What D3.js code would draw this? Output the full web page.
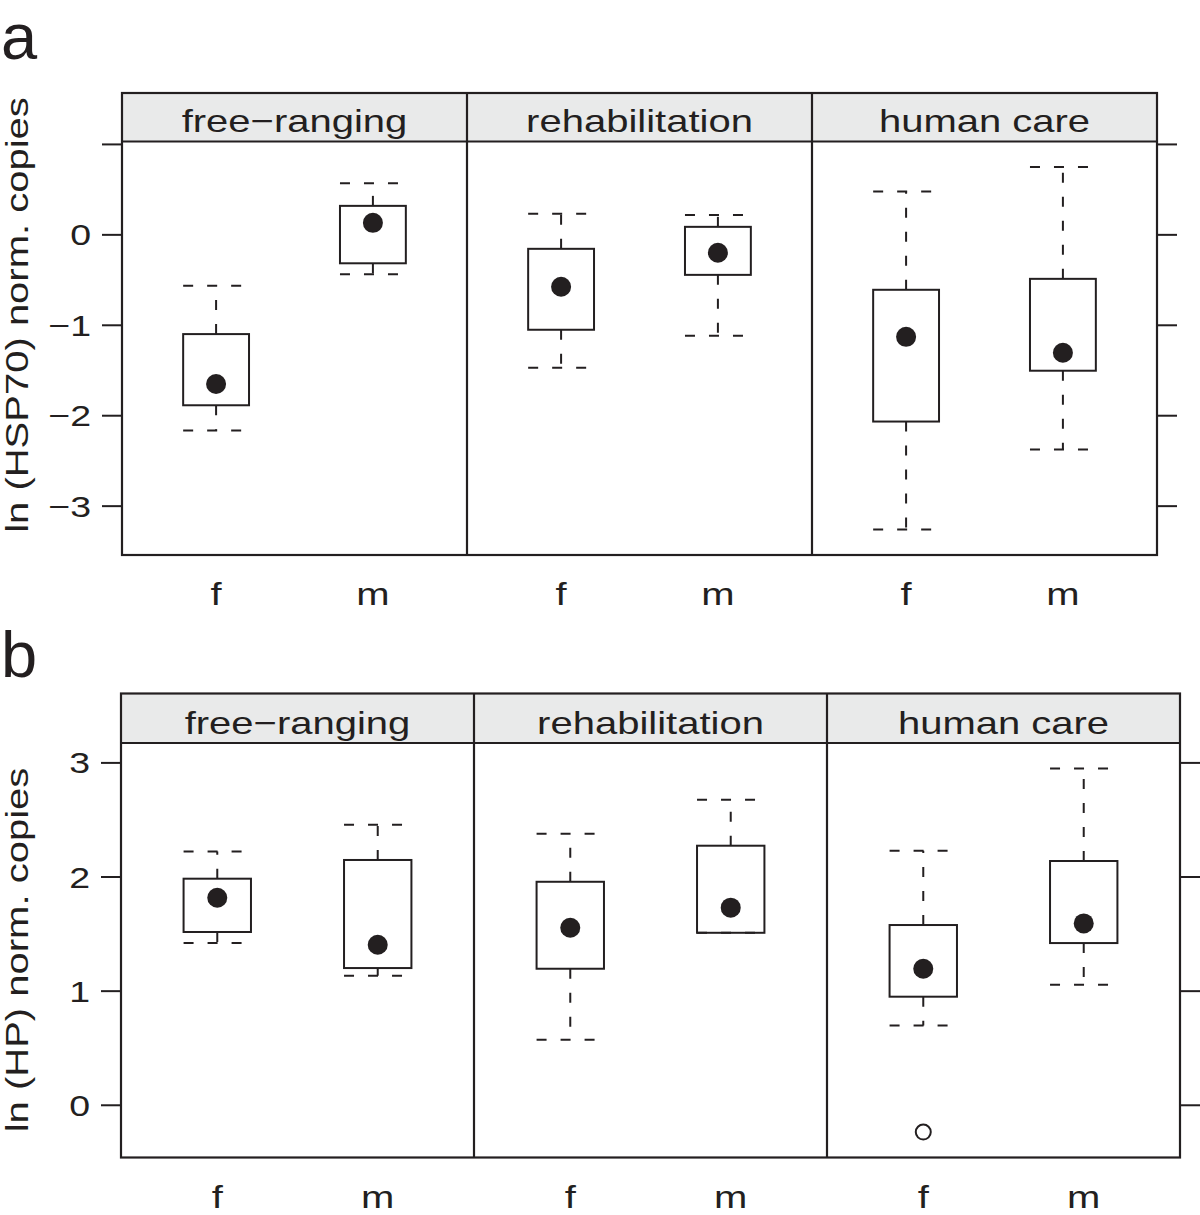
<!DOCTYPE html>
<html>
<head>
<meta charset="utf-8">
<script src="https://cdn.jsdelivr.net/npm/d3@7"></script>
<style>
  html, body { margin: 0; padding: 0; background: #fff; }
  svg { display: block; }
  text { font-family: "Liberation Sans", Arial, Helvetica, sans-serif; fill: #231f20; }
</style>
</head>
<body>
<svg id="chart" width="1200" height="1215"></svg>
<script>
// ---------- data ----------
const groups = ["free\u2212ranging", "rehabilitation", "human care"];
const sexes = ["f", "m"];

// order: free-ranging f, m, rehabilitation f, m, human care f, m
const hspLowerWhisker = [-2.17, -0.44, -1.475, -1.12, -3.265, -2.38];
const hspQ1           = [-1.89, -0.32, -1.055, -0.448, -2.07, -1.508];
const hspMedian       = [-1.655, 0.127, -0.58, -0.204, -1.133, -1.309];
const hspQ3           = [-1.103, 0.315, -0.16, 0.083, -0.613, -0.492];
const hspUpperWhisker = [-0.569, 0.566, 0.227, 0.215, 0.473, 0.746];
const hspOutliers     = [[], [], [], [], [], []];
const hspTicks        = [1, 0, -1, -2, -3];
const hspTickLabels   = ["", "0", "\u22121", "\u22122", "\u22123"];

const hpLowerWhisker = [1.417, 1.131, 0.57, 1.507, 0.695, 1.052];
const hpQ1           = [1.514, 1.198, 1.192, 1.507, 0.947, 1.417];
const hpMedian       = [1.814, 1.402, 1.551, 1.727, 1.192, 1.589];
const hpQ3           = [1.981, 2.145, 1.954, 2.27, 1.575, 2.136];
const hpUpperWhisker = [2.22, 2.454, 2.375, 2.673, 2.226, 2.947];
const hpOutliers     = [[], [], [], [], [-0.239], []];
const hpTicks        = [0, 1, 2, 3];
const hpTickLabels   = ["0", "1", "2", "3"];

// ---------- drawing ----------
const svg = d3.select("#chart");
const ink = "#231f20";
const SX = 1.25; // horizontal expansion of the original typeface

function buildRows(lo, q1, med, q3, hi, out) {
  return lo.map((d, i) => ({
    group: groups[Math.floor(i / 2)],
    sex: sexes[i % 2],
    lo: d, q1: q1[i], med: med[i], q3: q3[i], hi: hi[i], out: out[i]
  }));
}

function drawPanel(opt) {
  const g = svg.append("g");
  const rows = opt.rows;
  const allVals = rows.flatMap(r => [r.lo, r.hi, ...r.out]);
  const ext = d3.extent(allVals);
  const pad = (ext[1] - ext[0]) * 0.07;
  const y = d3.scaleLinear().domain([ext[0] - pad, ext[1] + pad]).range([opt.bottom, opt.stripBottom]);
  const col = d3.scaleBand().domain(groups).range([opt.left, opt.right]).padding(0);

  // strips
  g.selectAll("rect.strip").data(groups).enter().append("rect")
    .attr("x", d => col(d)).attr("y", opt.stripTop)
    .attr("width", col.bandwidth()).attr("height", opt.stripBottom - opt.stripTop)
    .attr("fill", "#e9eaea");
  g.selectAll("text.strip").data(groups).enter().append("text")
    .attr("text-anchor", "middle")
    .attr("font-size", 32)
    .attr("transform", d => `translate(${col(d) + col.bandwidth() / 2},${opt.stripBottom - 9.5}) scale(${SX},1)`)
    .text(d => d);

  // boxes per column
  groups.forEach(grp => {
    const x = d3.scaleLinear().domain([0.4, 2.6]).range([col(grp), col(grp) + col.bandwidth()]);
    const hw = x(1.21) - x(1);
    const data = rows.filter(r => r.group === grp);
    const bg = g.append("g");
    data.forEach((r, i) => {
      const cx = x(i + 1);
      const dash = "10,14";
      // whiskers
      bg.append("line").attr("x1", cx).attr("x2", cx).attr("y1", y(r.q3)).attr("y2", y(r.hi))
        .attr("stroke", ink).attr("stroke-width", 2).attr("stroke-dasharray", dash);
      bg.append("line").attr("x1", cx).attr("x2", cx).attr("y1", y(r.q1)).attr("y2", y(r.lo))
        .attr("stroke", ink).attr("stroke-width", 2).attr("stroke-dasharray", dash);
      // caps
      [r.hi, r.lo].forEach(v => {
        bg.append("line").attr("x1", cx - hw).attr("x2", cx + hw).attr("y1", y(v)).attr("y2", y(v))
          .attr("stroke", ink).attr("stroke-width", 2).attr("stroke-dasharray", dash);
      });
      // box
      bg.append("rect").attr("x", cx - hw).attr("y", y(r.q3))
        .attr("width", 2 * hw).attr("height", y(r.q1) - y(r.q3))
        .attr("fill", "none").attr("stroke", ink).attr("stroke-width", 2);
      // median dot
      bg.append("circle").attr("cx", cx).attr("cy", y(r.med)).attr("r", 10).attr("fill", ink);
      // outliers
      r.out.forEach(o => {
        bg.append("circle").attr("cx", cx).attr("cy", y(o)).attr("r", 7.5)
          .attr("fill", "none").attr("stroke", ink).attr("stroke-width", 2);
      });
    });
    // x labels
    g.selectAll(null).data(sexes).enter().append("text")
      .attr("text-anchor", "middle").attr("font-size", 32)
      .attr("transform", (d, i) => `translate(${x(i + 1)},${opt.bottom + 50}) scale(${SX},1)`)
      .text(d => d);
  });

  // frame and dividers
  g.append("rect").attr("x", opt.left).attr("y", opt.stripTop)
    .attr("width", opt.right - opt.left).attr("height", opt.bottom - opt.stripTop)
    .attr("fill", "none").attr("stroke", ink).attr("stroke-width", 2.2);
  g.append("line").attr("x1", opt.left).attr("x2", opt.right)
    .attr("y1", opt.stripBottom).attr("y2", opt.stripBottom)
    .attr("stroke", ink).attr("stroke-width", 2.2);
  g.selectAll("line.div").data(groups.slice(1)).enter().append("line")
    .attr("x1", d => col(d)).attr("x2", d => col(d))
    .attr("y1", opt.stripTop).attr("y2", opt.bottom)
    .attr("stroke", ink).attr("stroke-width", 2.2);

  // axes
  const left = d3.axisLeft(y).tickValues(opt.ticks).tickSize(20).tickSizeOuter(0)
    .tickFormat((d, i) => opt.tickLabels[i]);
  const la = g.append("g").attr("transform", `translate(${opt.left},0)`).call(left);
  la.select(".domain").remove();
  la.selectAll(".tick line").attr("stroke", ink).attr("stroke-width", 2);
  la.selectAll(".tick text")
    .attr("x", null).attr("dy", null)
    .attr("font-size", 30).attr("font-family", null).attr("fill", ink)
    .attr("text-anchor", "end")
    .attr("transform", `translate(${-(opt.left - opt.labelRight)},10.5) scale(${SX},1)`);
  const right = d3.axisRight(y).tickValues(opt.ticks).tickSize(20).tickSizeOuter(0).tickFormat("");
  const ra = g.append("g").attr("transform", `translate(${opt.right},0)`).call(right);
  ra.select(".domain").remove();
  ra.selectAll(".tick line").attr("stroke", ink).attr("stroke-width", 2);

  // y title
  g.append("text").attr("text-anchor", "middle").attr("font-size", 32)
    .attr("transform", `translate(28,${opt.titleY}) rotate(-90) scale(${SX},1)`)
    .text(opt.title);

  // panel letter
  g.append("text").attr("font-size", 65)
    .attr("x", 1).attr("y", opt.letterY).text(opt.letter);
}

drawPanel({
  rows: buildRows(hspLowerWhisker, hspQ1, hspMedian, hspQ3, hspUpperWhisker, hspOutliers),
  ticks: hspTicks, tickLabels: hspTickLabels,
  left: 122, right: 1157, stripTop: 93, stripBottom: 141.5, bottom: 555,
  labelRight: 91, title: "ln (HSP70) norm. copies", titleY: 315,
  letter: "a", letterY: 59
});

drawPanel({
  rows: buildRows(hpLowerWhisker, hpQ1, hpMedian, hpQ3, hpUpperWhisker, hpOutliers),
  ticks: hpTicks, tickLabels: hpTickLabels,
  left: 121, right: 1180, stripTop: 693.5, stripBottom: 743, bottom: 1157.5,
  labelRight: 90, title: "ln (HP) norm. copies", titleY: 950,
  letter: "b", letterY: 677
});
</script>
</body>
</html>
